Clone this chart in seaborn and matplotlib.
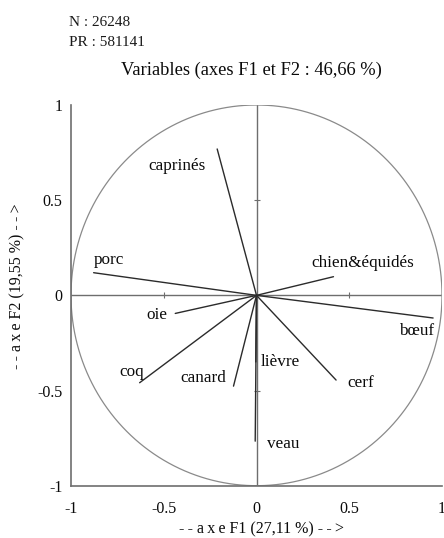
import numpy as np
import pandas as pd
import matplotlib
matplotlib.use("Agg")
import matplotlib.pyplot as plt
import seaborn as sns

# Correlation circle: coordinates of the variables on factors F1 and F2
variables = ["caprinés", "porc", "chien&équidés", "bœuf", "oie",
             "coq", "canard", "lièvre", "cerf", "veau"]
f1 = [-0.212, -0.878, 0.415, 0.952, -0.438, -0.630, -0.124, -0.004, 0.429, -0.007]
f2 = [0.769, 0.119, 0.098, -0.119, -0.095, -0.459, -0.477, -0.350, -0.445, -0.766]

ticks = [-1, -0.5, 0, 0.5, 1]
tick_labels = ["-1", "-0.5", "0", "0.5", "1"]

title = "Variables (axes F1 et F2 : 46,66 %)"
info_lines = ["N : 26248", "PR : 581141"]
xlabel = "-\u2009- a\u2009x\u2009e F1 (27,11 %) -\u2009-\u2009>"
ylabel = "-\u2009- a\u2009x\u2009e F2 (19,55 %) -\u2009-\u2009>"

# label placement (offset in points from the arrow tip)
label_offsets = {
    "caprinés": (-29, -12), "porc": (11, 9), "chien&équidés": (21, 10),
    "bœuf": (-12, -9), "oie": (-13, -1), "coq": (-6, 8), "canard": (-22, 6),
    "lièvre": (18, 0), "cerf": (18, -2), "veau": (20, -2),
}

sns.set_theme(style="white")
plt.rcParams["font.family"] = ["Liberation Serif", "DejaVu Serif"]

fig = plt.figure(figsize=(4.44, 5.38), dpi=100)
ax = fig.add_axes([71 / 444, 52.3 / 538, 371 / 444, 380.7 / 538])

# one segment per variable, from the origin to its coordinates
rows = []
for name, x, y in zip(variables, f1, f2):
    rows.append({"variable": name, "step": 0, "F1": 0.0, "F2": 0.0})
    rows.append({"variable": name, "step": 1, "F1": x, "F2": y})
seg = pd.DataFrame(rows)

# unit circle
theta = np.linspace(0, 2 * np.pi, 400)
circ = pd.DataFrame({"x": np.cos(theta), "y": np.sin(theta), "t": theta})
sns.lineplot(data=circ, x="x", y="y", sort=False, estimator=None,
             color="#8a8a8a", linewidth=0.9, ax=ax)

# central axes with small tick marks
ax.axhline(0, color="#6e6e6e", linewidth=1.0, zorder=1)
ax.axvline(0, color="#6e6e6e", linewidth=1.0, zorder=1)
ax.plot([-0.5, 0.5], [0, 0], linestyle="none", marker="|", markersize=4,
        color="#6e6e6e", markeredgewidth=0.8)
ax.plot([0, 0], [-0.5, 0.5], linestyle="none", marker="_", markersize=4,
        color="#6e6e6e", markeredgewidth=0.8)

sns.lineplot(data=seg, x="F1", y="F2", units="variable", estimator=None,
             sort=False, color="#2b2b2b", linewidth=1.0, ax=ax, zorder=3)

for name, x, y in zip(variables, f1, f2):
    dx, dy = label_offsets[name]
    ax.annotate(name, (x, y), xytext=(dx, dy), textcoords="offset points",
                ha="center", va="center", fontsize=12.3, color="#0a0a0a")

ax.set_xlim(-1, 1)
ax.set_ylim(-1, 1)
ax.set_xticks(ticks)
ax.set_xticklabels(tick_labels)
ax.set_yticks(ticks)
ax.set_yticklabels(tick_labels)
ax.tick_params(axis="both", length=0, labelsize=11.5, colors="#0a0a0a")
ax.tick_params(axis="x", pad=11)
ax.tick_params(axis="y", pad=6)
ax.set_xlabel("")
ax.set_ylabel("")

for side in ["top", "right"]:
    ax.spines[side].set_visible(False)
for side in ["left", "bottom"]:
    ax.spines[side].set_color("#6e6e6e")
    ax.spines[side].set_linewidth(1.2)

fig.text(261 / 444, 1 - 529 / 538, xlabel, ha="center", va="center",
         fontsize=11.5, color="#0a0a0a")
fig.text(17 / 444, 1 - 286 / 538, ylabel, ha="center", va="center",
         rotation=90, fontsize=11.5, color="#0a0a0a")

fig.text(69 / 444, 1 - 23 / 538, info_lines[0], ha="left", va="center",
         fontsize=11, color="#1a1a1a")
fig.text(69 / 444, 1 - 42 / 538, info_lines[1], ha="left", va="center",
         fontsize=11, color="#1a1a1a")
fig.text(251 / 444, 1 - 70 / 538, title, ha="center", va="center",
         fontsize=13.3, color="#0a0a0a")

fig.savefig("out.png", dpi=100)
